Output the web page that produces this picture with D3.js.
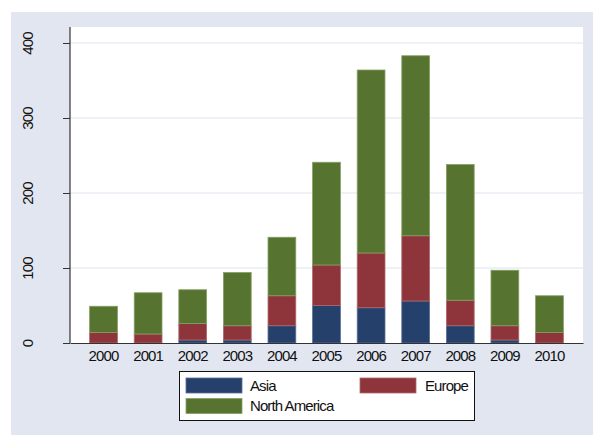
<!DOCTYPE html>
<html>
<head>
<meta charset="utf-8">
<script src="https://cdn.jsdelivr.net/npm/d3@7"></script>
<style>
    body { margin: 0; background: #fff; }
    text { font-family: "Liberation Sans", Arial, sans-serif; fill: #111; }
</style>
</head>
<body>
<div id="chart"></div>
<script>
//Данные графика
const years = ["2000", "2001", "2002", "2003", "2004", "2005", "2006", "2007", "2008", "2009", "2010"];
const asia = [0, 0, 4, 4, 23, 50, 47, 56, 23, 4, 0];
const europe = [14, 12, 22, 19, 40, 54, 73, 87, 34, 19, 14];
const northAmerica = [35, 55, 45, 71, 78, 137, 244, 240, 181, 74, 49];
const seriesNames = ["Asia", "Europe", "North America"];
const yTicks = [0, 100, 200, 300, 400];

const colors = ["#26406c", "#8e353c", "#56742f"];
const strokes = ["#5a6f96", "#b0686d", "#85a064"];

const width = 593;
const height = 435;
//Границы области графика
const plotLeft = 70, plotRight = 583, plotTop = 27, plotBottom = 343;

const rows = years.map((year, i) => ({
    year: year,
    "Asia": asia[i],
    "Europe": europe[i],
    "North America": northAmerica[i]
}));

const svg = d3.select("#chart").append("svg")
    .attr("width", width)
    .attr("height", height);

//Фон
svg.append("rect")
    .attr("x", 11).attr("y", 12)
    .attr("width", width - 11).attr("height", height - 12)
    .attr("fill", "#e1e6f0");

svg.append("rect")
    .attr("x", plotLeft).attr("y", plotTop)
    .attr("width", plotRight - plotLeft).attr("height", plotBottom - plotTop)
    .attr("fill", "#fff");

//Шкалы
const x = d3.scaleBand()
    .domain(years)
    .range([plotLeft, plotRight])
    .paddingInner(0.377)
    .paddingOuter(0.44);

const y = d3.scaleLinear()
    .domain([0, 400])
    .range([plotBottom, plotBottom - 300]);

//Сетка
svg.append("g")
    .selectAll("line")
    .data(yTicks.filter(d => d > 0))
    .enter()
    .append("line")
    .attr("x1", plotLeft).attr("x2", plotRight)
    .attr("y1", d => y(d)).attr("y2", d => y(d))
    .attr("stroke", "#dde3ee")
    .attr("stroke-width", 1.2);

//Столбцы
const stacked = d3.stack().keys(seriesNames)(rows);

svg.append("g")
    .selectAll("g")
    .data(stacked)
    .enter()
    .append("g")
    .attr("fill", (d, i) => colors[i])
    .attr("stroke", (d, i) => strokes[i])
    .selectAll("rect")
    .data(d => d.filter(p => p[1] - p[0] > 0))
    .enter()
    .append("rect")
    .attr("x", d => x(d.data.year))
    .attr("width", x.bandwidth())
    .attr("y", d => y(d[1]))
    .attr("height", d => y(d[0]) - y(d[1]))
    .attr("stroke-width", 0.8);

//Ось Y
const yAxis = svg.append("g")
    .attr("transform", `translate(${plotLeft},0)`)
    .call(d3.axisLeft(y).tickValues(yTicks).tickSize(7).tickSizeOuter(0));

yAxis.select(".domain").remove();
yAxis.selectAll(".tick line").attr("stroke", "#333");
yAxis.selectAll(".tick text")
    .attr("x", 0).attr("dy", "0.35em")
    .attr("text-anchor", "middle")
    .attr("transform", "translate(-42.5,0) rotate(-90)")
    .attr("font-size", 15)
    .attr("letter-spacing", -0.9)
    .attr("fill", "#111");

svg.append("line")
    .attr("x1", plotLeft).attr("x2", plotLeft)
    .attr("y1", plotTop).attr("y2", plotBottom)
    .attr("stroke", "#333").attr("stroke-width", 1.2);

//Ось X
const xAxis = svg.append("g")
    .attr("transform", `translate(0,${plotBottom})`)
    .call(d3.axisBottom(x).tickSize(0).tickPadding(7));

xAxis.select(".domain").attr("stroke", "#333").attr("stroke-width", 1.2);
xAxis.selectAll(".tick text")
    .attr("font-size", 15)
    .attr("letter-spacing", -0.9)
    .attr("fill", "#111");

//Легенда
const legend = svg.append("g");

legend.append("rect")
    .attr("x", 179.5).attr("y", 371.5)
    .attr("width", 295).attr("height", 49)
    .attr("fill", "#fff")
    .attr("stroke", "#111")
    .attr("stroke-width", 1);

const legendPos = [[186, 378], [360, 378], [186, 398.5]];

const items = legend.selectAll(".item")
    .data(seriesNames)
    .enter()
    .append("g")
    .attr("class", "item")
    .attr("transform", (d, i) => `translate(${legendPos[i][0]},${legendPos[i][1]})`);

items.append("rect")
    .attr("width", 56).attr("height", 15)
    .attr("fill", (d, i) => colors[i])
    .attr("stroke", (d, i) => strokes[i])
    .attr("stroke-width", 0.8);

items.append("text")
    .attr("x", (d, i) => i === 1 ? 65 : 64)
    .attr("y", 7.5)
    .attr("dy", "0.35em")
    .attr("font-size", 15)
    .attr("letter-spacing", -0.9)
    .text(d => d);
</script>
</body>
</html>
